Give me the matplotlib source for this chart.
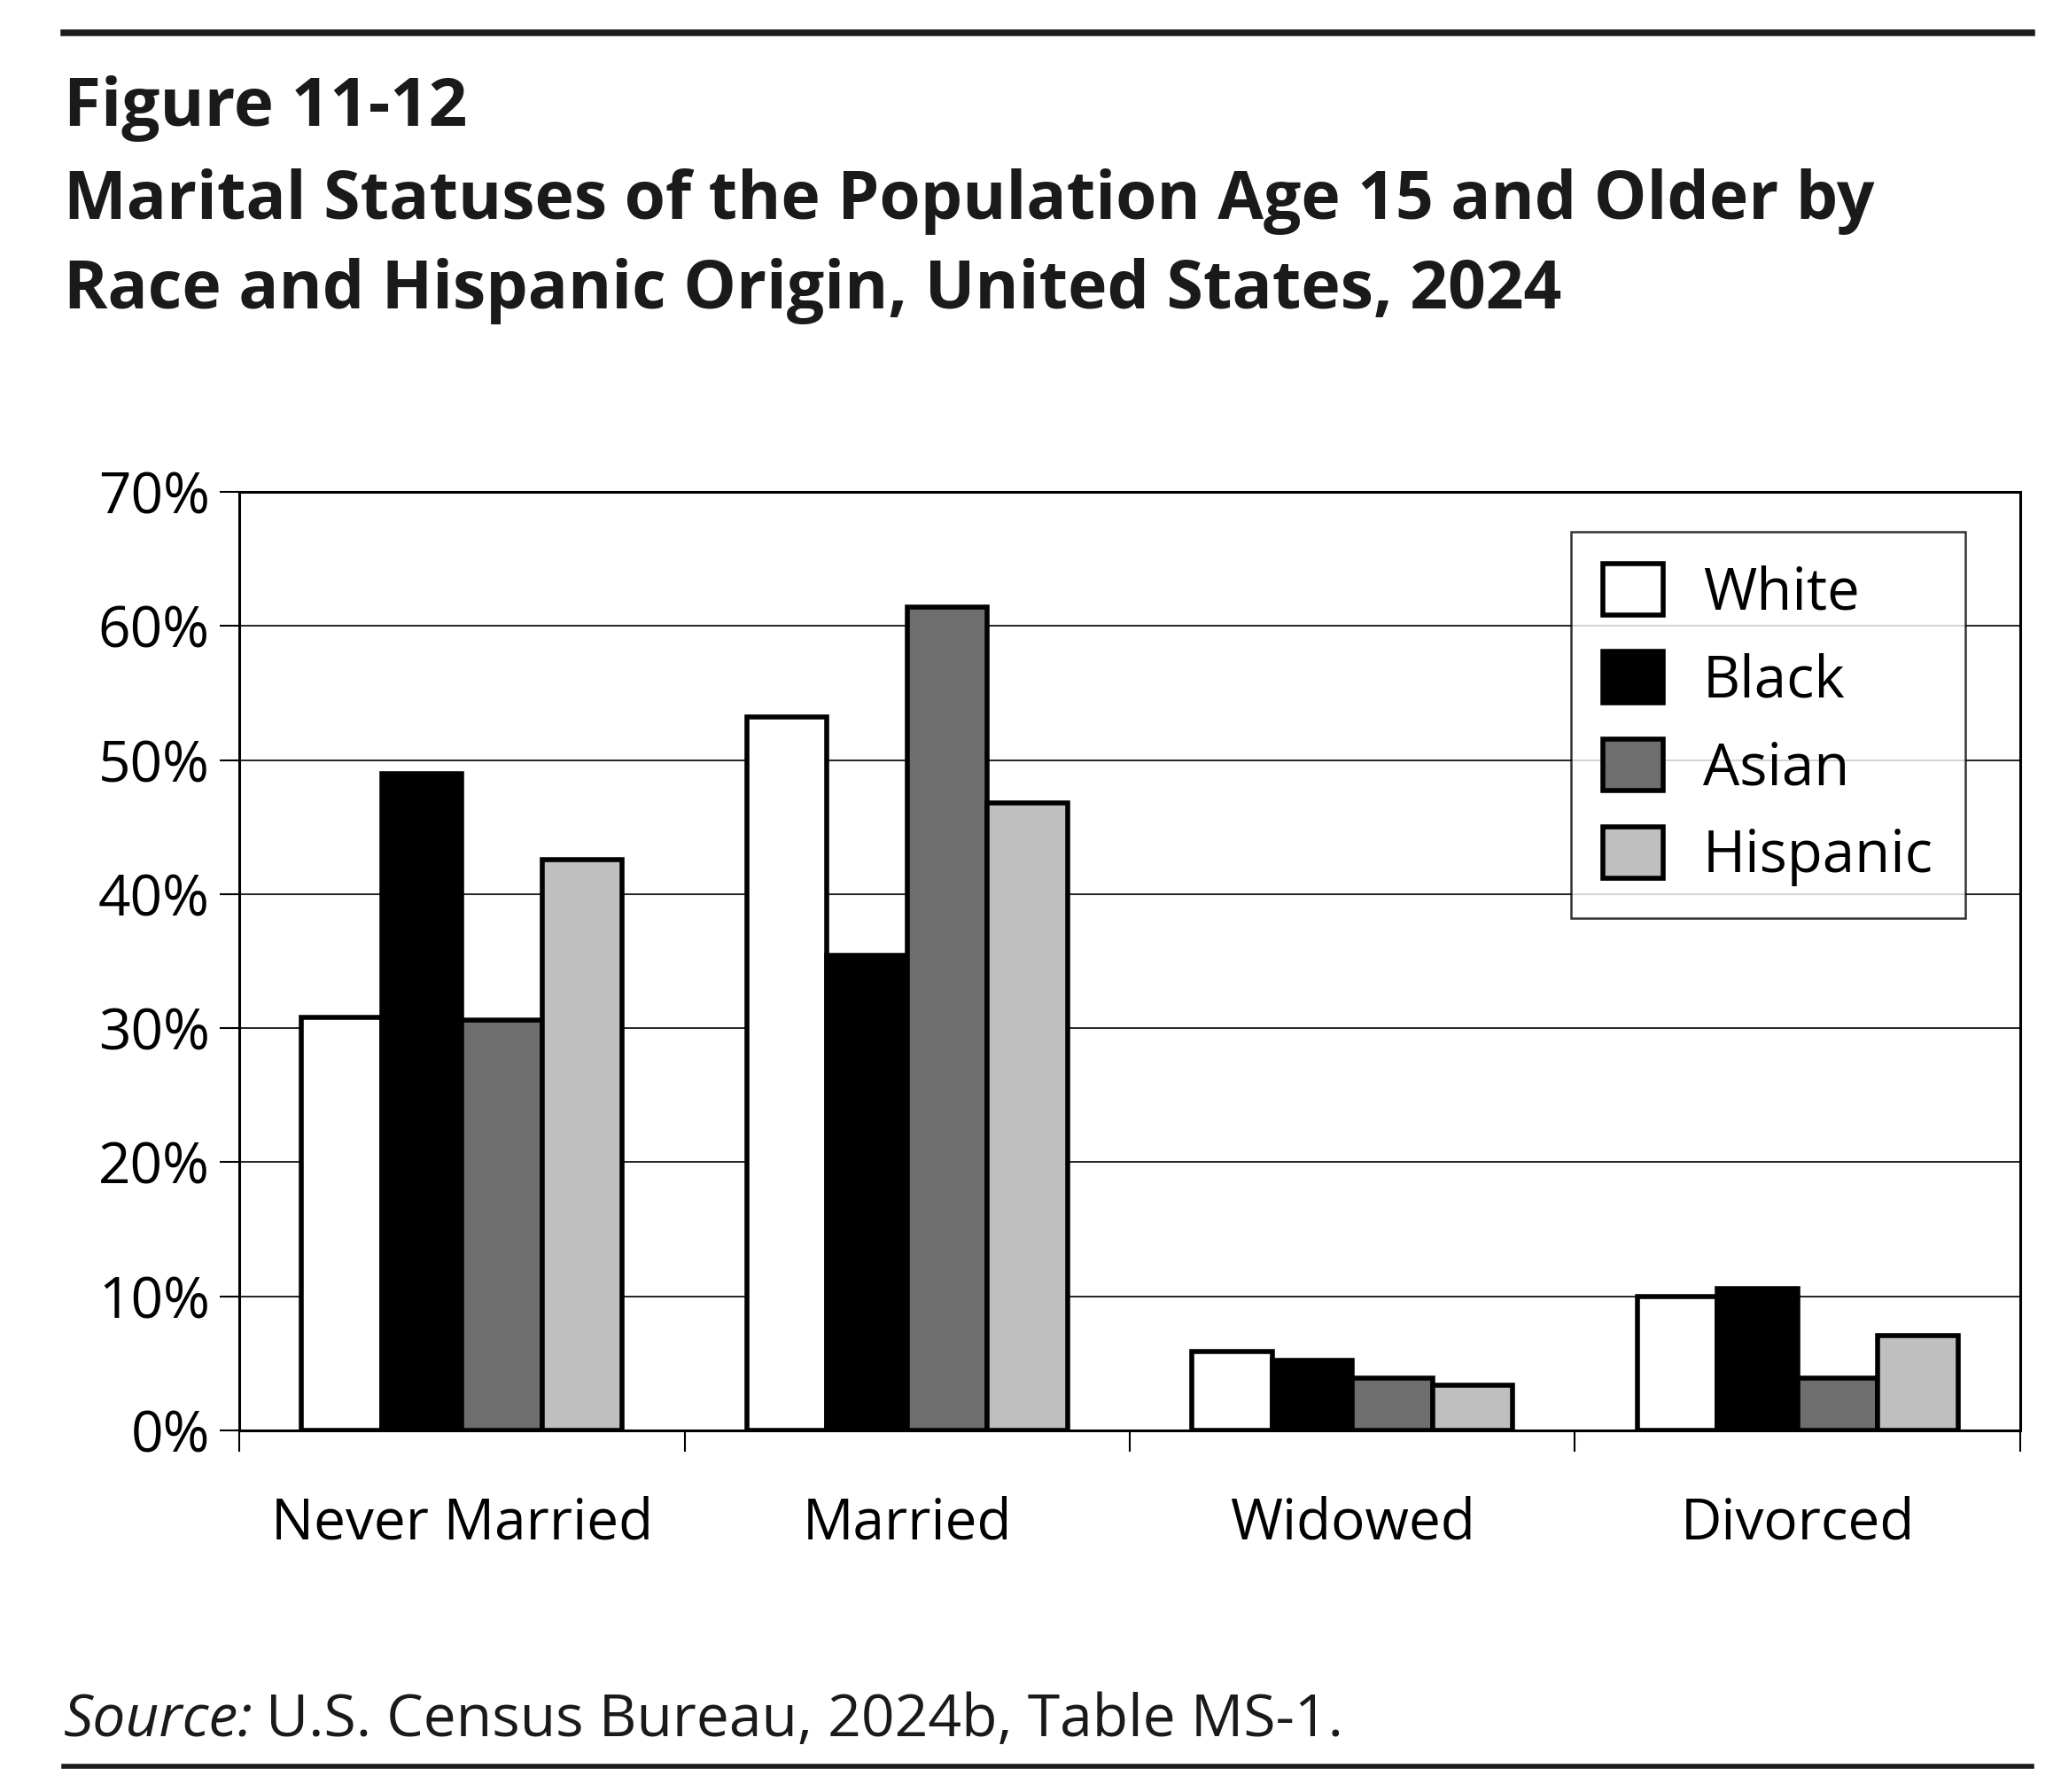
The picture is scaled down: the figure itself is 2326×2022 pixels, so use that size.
import matplotlib
matplotlib.use("Agg")
import matplotlib.pyplot as plt
from matplotlib.lines import Line2D
import numpy as np

plt.rcParams['font.family'] = ['Open Sans', 'DejaVu Sans']

categories = ['Never Married', 'Married', 'Widowed', 'Divorced']
groups = ['White', 'Black', 'Asian', 'Hispanic']
white = [30.8, 53.2, 5.9, 10.0]
black = [49.0, 35.4, 5.2, 10.6]
asian = [30.6, 61.4, 3.9, 3.9]
hispanic = [42.6, 46.8, 3.4, 7.1]
yticks = [0, 10, 20, 30, 40, 50, 60, 70]

series = [white, black, asian, hispanic]
colors = ['#ffffff', '#000000', '#6e6e6e', '#bfbfbf']

fig = plt.figure(figsize=(23.26, 20.22), dpi=100)
ax = fig.add_axes([0.1161, 0.2018, 0.8641, 0.5237])

x = np.arange(len(categories))
w = 0.18
for i, (vals, c) in enumerate(zip(series, colors)):
    ax.bar(x + (i - 1.5) * w, vals, w, color=c, edgecolor='black',
           linewidth=4, label=groups[i], zorder=3)

ax.set_xlim(-0.5, 3.5)
ax.set_ylim(0, 70)
ax.set_yticks(yticks)
ax.set_yticklabels([f'{v}%' for v in yticks])
ax.set_xticks(x)
ax.set_xticklabels(categories)
ax.set_xticks(np.arange(-0.5, 4, 1), minor=True)
ax.tick_params(axis='x', which='major', length=0, pad=53, labelsize=46)
ax.tick_params(axis='x', which='minor', length=17, width=1.5, direction='out')
ax.tick_params(axis='y', length=16, width=1.5, direction='out', pad=8, labelsize=46)
ax.yaxis.grid(True, color='black', linewidth=1.2, zorder=0)
ax.set_axisbelow(True)
for s in ax.spines.values():
    s.set_linewidth(2.2)

leg = ax.legend(loc='upper right', bbox_to_anchor=(0.969, 0.9575), fontsize=47,
                frameon=True, fancybox=False, edgecolor='black',
                handlelength=1.05, handleheight=1.0, handletextpad=0.68,
                labelspacing=0.48, borderpad=0.55, borderaxespad=0)
leg.get_frame().set_linewidth(1.8)
leg.set_zorder(5)

fig.add_artist(Line2D([0.031, 0.986], [1 - 37 / 2022] * 2, color='#1a1a1a', linewidth=5.4))
fig.add_artist(Line2D([0.031, 0.986], [1 - 1993 / 2022] * 2, color='#1a1a1a', linewidth=4))

fig.text(0.031, 1 - 142 / 2022, 'Figure 11-12', fontsize=55, fontweight='bold',
         color='#1a1a1a', va='baseline')
fig.text(0.031, 1 - 247 / 2022, 'Marital Statuses of the Population Age 15 and Older by',
         fontsize=54, fontweight='bold', color='#1a1a1a', va='baseline')
fig.text(0.031, 1 - 348 / 2022, 'Race and Hispanic Origin, United States, 2024',
         fontsize=54, fontweight='bold', color='#1a1a1a', va='baseline')

# source line: italic "Source:" followed by plain text
src_y = 1 - 1959 / 2022
t1 = fig.text(0.031, src_y, 'Source:', fontsize=47.5, style='italic',
              color='#1a1a1a', va='baseline')
fig.canvas.draw()
bb = t1.get_window_extent()
x2 = (bb.x1 + 14) / fig.bbox.width
fig.text(x2, src_y, 'U.S. Census Bureau, 2024b, Table MS-1.', fontsize=47.5,
         color='#1a1a1a', va='baseline')

fig.savefig('out.png', dpi=100)
